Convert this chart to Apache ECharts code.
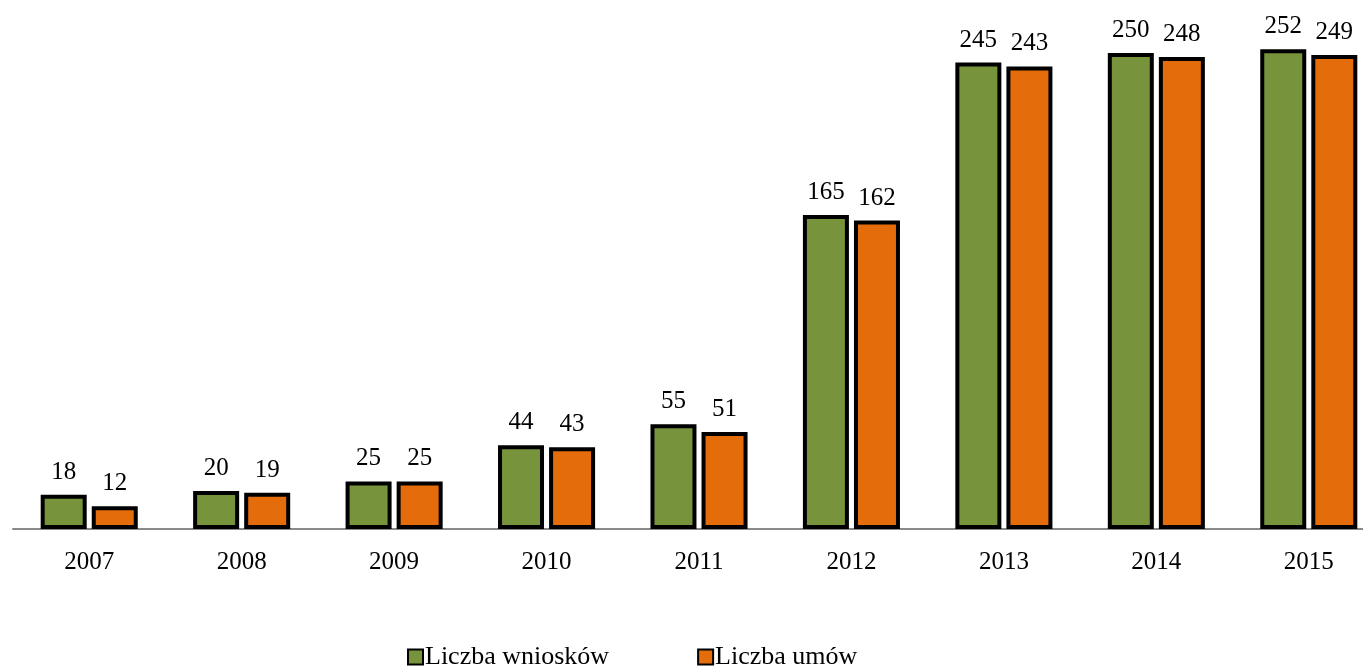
<!DOCTYPE html>
<html>
<head>
<meta charset="utf-8">
<script src="https://cdn.jsdelivr.net/npm/echarts@6/dist/echarts.min.js"></script>
<style>html,body{margin:0;padding:0;background:#fff;overflow:hidden;width:1363px;height:667px;}#c{width:1385px;height:667px;}</style>
</head>
<body>
<div id="c"></div>
<script>
const categories = ['2007','2008','2009','2010','2011','2012','2013','2014','2015'];
const wnioski = [18, 20, 25, 44, 55, 165, 245, 250, 252];
const umowy = [12, 19, 25, 43, 51, 162, 243, 248, 249];
const seriesNames = ['Liczba wniosków', 'Liczba umów'];

const font = '"Liberation Serif", "Times New Roman", serif';
const chart = echarts.init(document.getElementById('c'));
const labelCfg = {show: true, position: 'top', distance: 10, color: '#000', fontFamily: font, fontSize: 25};
chart.setOption({
  animation: false,
  backgroundColor: '#fff',
  grid: {left: 13, right: 0, top: 15, height: 514, containLabel: false},
  legend: {
    top: 639, left: 402, itemWidth: 15, itemHeight: 15, itemGap: 88,
    icon: 'rect',
    textStyle: {fontFamily: font, fontSize: 26, color: '#000', padding: [0,0,0,-3]},
    data: seriesNames
  },
  xAxis: {
    type: 'category', data: categories,
    axisLine: {lineStyle: {color: '#898989', width: 2}},
    axisTick: {show: false},
    axisLabel: {color: '#000', fontFamily: font, fontSize: 25, margin: 21}
  },
  yAxis: {type: 'value', min: 0, max: 270, show: false, splitLine: {show: false}},
  series: [
    {name: seriesNames[0], type: 'bar', data: wnioski, barWidth: 46, barGap: '11%',
     itemStyle: {color: '#77933C', borderColor: '#000', borderWidth: 4}, label: labelCfg},
    {name: seriesNames[1], type: 'bar', data: umowy, barWidth: 46, barGap: '11%',
     itemStyle: {color: '#E46C0A', borderColor: '#000', borderWidth: 4}, label: labelCfg}
  ]
});
</script>
</body>
</html>
